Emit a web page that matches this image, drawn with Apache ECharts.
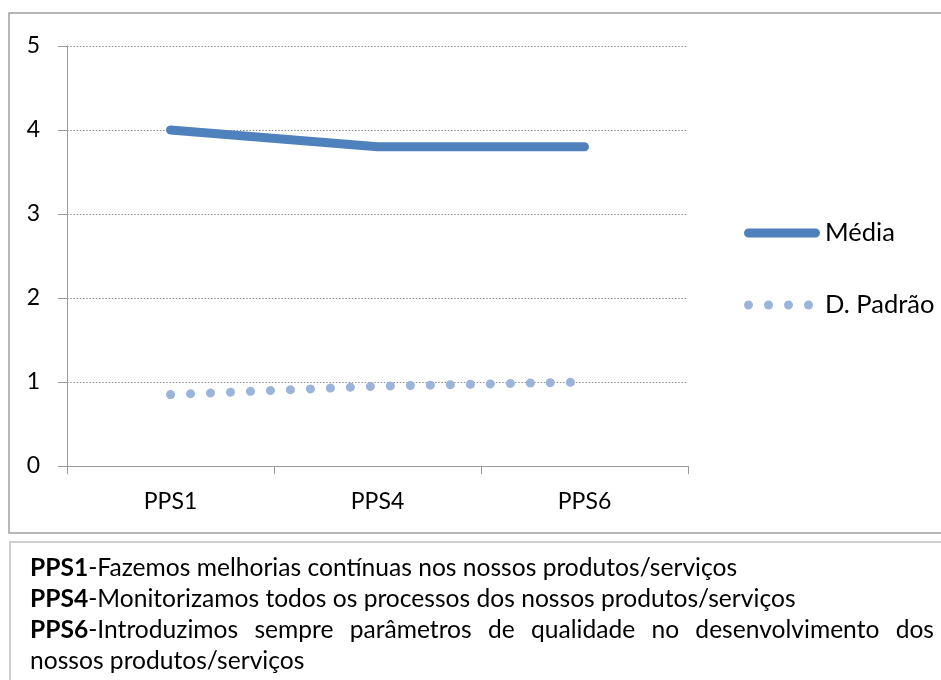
<!DOCTYPE html>
<html>
<head>
<meta charset="utf-8">
<script src="https://cdn.jsdelivr.net/npm/echarts@6/dist/echarts.min.js"></script>
<style>
  html, body { margin: 0; padding: 0; background: #ffffff; }
  #chart { width: 941px; height: 680px; }
</style>
</head>
<body>
<div id="chart"></div>
<script>
// Categories and series values
const categories = ['PPS1', 'PPS4', 'PPS6'];
const media = [4.0, 3.8, 3.8];
const desvioPadrao = [0.85, 0.95, 1.0];
const seriesNames = ['Média', 'D. Padrão'];
const yTicks = [0, 1, 2, 3, 4, 5];

// Caption describing each item
const captionCodes = ['PPS1', 'PPS4', 'PPS6'];
const captionTexts = [
  '-Fazemos melhorias contínuas nos nossos produtos/serviços',
  '-Monitorizamos todos os processos dos nossos produtos/serviços',
  '-Introduzimos sempre parâmetros de qualidade no desenvolvimento dos'
];
const captionTail = 'nossos produtos/serviços';

const FONT = 'Lato';
const AXIS_FS = 23;
const LEGEND_FS = 25.5;
const CAP_FS = 24.6;
const AXIS_GRAY = '#9a9a9a';
const MEDIA_COLOR = '#4f81bd';
const DP_COLOR = '#9db4da';

// legend glyphs built from cubic curves: a thick rounded bar and a row of four dots
const K = 0.5523 * 4.5;
function circlePath(cx, cy, r) {
  const k = 0.5523 * r;
  return 'M' + (cx - r) + ',' + cy +
    ' C' + (cx - r) + ',' + (cy - k) + ' ' + (cx - k) + ',' + (cy - r) + ' ' + cx + ',' + (cy - r) +
    ' C' + (cx + k) + ',' + (cy - r) + ' ' + (cx + r) + ',' + (cy - k) + ' ' + (cx + r) + ',' + cy +
    ' C' + (cx + r) + ',' + (cy + k) + ' ' + (cx + k) + ',' + (cy + r) + ' ' + cx + ',' + (cy + r) +
    ' C' + (cx - k) + ',' + (cy + r) + ' ' + (cx - r) + ',' + (cy + k) + ' ' + (cx - r) + ',' + cy + ' Z ';
}
function barIcon() {
  return 'path://M4.5,0 L71.5,0' +
    ' C' + (71.5 + K) + ',0 76,' + (4.5 - K) + ' 76,4.5' +
    ' C76,' + (4.5 + K) + ' ' + (71.5 + K) + ',9 71.5,9' +
    ' L4.5,9' +
    ' C' + (4.5 - K) + ',9 0,' + (4.5 + K) + ' 0,4.5' +
    ' C0,' + (4.5 - K) + ' ' + (4.5 - K) + ',0 4.5,0 Z';
}
function dotsIcon() {
  let d = 'path://';
  [4.5, 24.5, 44.5, 64.5].forEach(cx => { d += circlePath(cx, 4.5, 4.5); });
  d += 'M76,0 L76,9';
  return d;
}

const chart = echarts.init(document.getElementById('chart'), null, { renderer: 'canvas' });

// text measurement for the justified caption line
const mctx = document.createElement('canvas').getContext('2d');
function measure(txt, weight) {
  mctx.font = (weight || 'normal') + ' ' + CAP_FS + 'px ' + FONT;
  return mctx.measureText(txt).width;
}

const capLeft = 30;
const capRight = 934;
const capBaseY = [568, 599, 630, 661];

const graphics = [
  { type: 'rect', silent: true, z: 0,
    shape: { x: 9, y: 13, width: 940, height: 520 },
    style: { fill: 'none', stroke: '#a0a0a0', lineWidth: 1.5 } },
  { type: 'rect', silent: true, z: 0,
    shape: { x: 10, y: 542, width: 940, height: 200 },
    style: { fill: 'none', stroke: '#cfcfcf', lineWidth: 2 } }
];

function capText(x, y, text) {
  return {
    type: 'text', silent: true, z: 5, x: x, y: y,
    style: {
      text: text,
      font: CAP_FS + 'px ' + FONT,
      fill: '#000000',
      verticalAlign: 'middle',
      rich: { b: { fontWeight: 'bold', fontSize: CAP_FS, fontFamily: FONT, fill: '#000000' } }
    }
  };
}

// first two lines are left aligned
for (let i = 0; i < 2; i++) {
  graphics.push(capText(capLeft, capBaseY[i], '{b|' + captionCodes[i] + '}' + captionTexts[i]));
}

// third line is justified between the margins
(function () {
  const words = captionTexts[2].split(' ');
  const items = words.map((w, k) => {
    if (k === 0) {
      return { text: '{b|' + captionCodes[2] + '}' + w,
               width: measure(captionCodes[2], 'bold') + measure(w) };
    }
    return { text: w, width: measure(w) };
  });
  const total = items.reduce((s, it) => s + it.width, 0);
  const gap = (capRight - capLeft - total) / (items.length - 1);
  let x = capLeft;
  items.forEach(it => {
    graphics.push(capText(x, capBaseY[2], it.text));
    x += it.width + gap;
  });
})();

graphics.push(capText(capLeft, capBaseY[3], captionTail));

const option = {
  backgroundColor: '#ffffff',
  animation: false,
  textStyle: { fontFamily: FONT },
  grid: { left: 67, right: 253, top: 46, bottom: 214, containLabel: false },
  legend: {
    orient: 'vertical',
    left: 744,
    top: 220,
    padding: 0,
    itemWidth: 76,
    itemHeight: 9,
    itemGap: 46,
    symbolKeepAspect: false,
    selectedMode: false,
    textStyle: { fontFamily: FONT, fontSize: LEGEND_FS, color: '#000000' },
    data: [
      { name: seriesNames[0], icon: barIcon(), itemStyle: { color: MEDIA_COLOR, borderWidth: 0 } },
      { name: seriesNames[1], icon: dotsIcon(), itemStyle: { color: DP_COLOR, borderWidth: 0 } }
    ]
  },
  xAxis: {
    type: 'category',
    data: categories,
    boundaryGap: true,
    axisLine: { show: true, lineStyle: { color: AXIS_GRAY, width: 1 } },
    axisTick: { show: true, length: 8, lineStyle: { color: AXIS_GRAY, width: 1 } },
    axisLabel: { fontFamily: FONT, fontSize: AXIS_FS, color: '#000000', margin: 24 },
    splitLine: { show: false }
  },
  yAxis: {
    type: 'value',
    min: yTicks[0],
    max: yTicks[yTicks.length - 1],
    interval: 1,
    axisLine: { show: true, lineStyle: { color: AXIS_GRAY, width: 1 } },
    axisTick: { show: true, length: 9, lineStyle: { color: AXIS_GRAY, width: 1 } },
    axisLabel: { fontFamily: FONT, fontSize: AXIS_FS, color: '#000000', margin: 27 },
    splitLine: { show: true, lineStyle: { color: '#8c8c8c', width: 1, type: [1.5, 1.7] } }
  },
  series: [
    {
      name: seriesNames[0],
      type: 'line',
      data: media,
      symbol: 'none',
      z: 3,
      color: MEDIA_COLOR,
      lineStyle: { color: MEDIA_COLOR, width: 9, cap: 'round', join: 'round' }
    },
    {
      name: seriesNames[1],
      type: 'line',
      data: desvioPadrao,
      symbol: 'none',
      z: 3,
      color: DP_COLOR,
      lineStyle: { color: DP_COLOR, width: 9, type: [0.1, 19.9], cap: 'round', join: 'round' }
    }
  ],
  graphic: graphics
};

chart.setOption(option);
</script>
</body>
</html>
